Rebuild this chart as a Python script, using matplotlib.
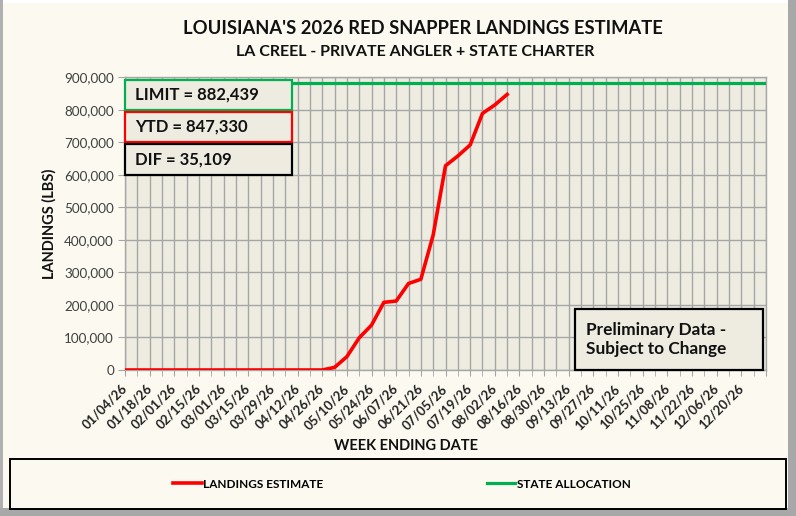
import datetime as dt
import numpy as np
import matplotlib
matplotlib.use("Agg")
import matplotlib.pyplot as plt
from matplotlib.patches import Rectangle
from matplotlib.lines import Line2D
from matplotlib.ticker import FuncFormatter, MultipleLocator

# week ending dates (52 Sundays of 2026)
weeks = [(dt.date(2026, 1, 4) + dt.timedelta(weeks=i)).strftime("%m/%d/%y")
         for i in range(52)]

# cumulative landings estimate (lbs), weekly
landings = [0] * 17 + [8000, 41000, 99000, 138000, 208000, 212000, 266000,
                       279000, 415000, 628000, 658000, 692000, 789000,
                       815000, 847330]
limit = 882439
ytd = 847330
dif = limit - ytd

W, H = 796, 516
BG = "#FCFAF0"
PLOT_BG = "#EEECE1"
GRID = "#A6A6A6"
FONT = "Lato"

plt.rcParams["font.family"] = [FONT, "DejaVu Sans"]

fig = plt.figure(figsize=(W / 100, H / 100), dpi=100, facecolor=BG)

def px(x0, y0, x1, y1):
    # pixel box -> figure fraction rect
    return [x0 / W, 1 - y1 / H, (x1 - x0) / W, (y1 - y0) / H]

# outer frame / shadow
fig.patches.append(Rectangle((0, 0), 3 / W, 1, transform=fig.transFigure,
                             facecolor="#B0B0B0", edgecolor="none"))
fig.patches.append(Rectangle((788 / W, 0), 8 / W, 1, transform=fig.transFigure,
                             facecolor="#A8A8A8", edgecolor="none"))
fig.patches.append(Rectangle((0, 0), 1, 8 / H, transform=fig.transFigure,
                             facecolor="#A8A8A8", edgecolor="none"))
fig.patches.append(Rectangle((3 / W, 1 - 3 / H), 785 / W, 3 / H,
                             transform=fig.transFigure,
                             facecolor="white", edgecolor="none"))

ax = fig.add_axes(px(125, 77.3, 766, 370))
ax.set_facecolor(PLOT_BG)

x = np.arange(len(landings))
ax.plot(x, landings, color="#FF0000", lw=2.6, zorder=4,
        solid_joinstyle="round")
ax.axhline(limit, color="#00B050", lw=2.3, zorder=3)

ax.set_xlim(0, len(weeks))
ax.set_ylim(0, 900000)

ax.xaxis.set_major_locator(MultipleLocator(2))
ax.xaxis.set_minor_locator(MultipleLocator(1))
ax.yaxis.set_major_locator(MultipleLocator(100000))
ax.xaxis.set_major_formatter(
    FuncFormatter(lambda v, p: weeks[int(v)] if 0 <= int(v) < len(weeks) and int(v) % 2 == 0 else ""))
ax.yaxis.set_major_formatter(FuncFormatter(lambda v, p: f"{int(v):,}"))

ax.grid(which="both", axis="x", color=GRID, lw=1.0, zorder=1)
ax.grid(which="major", axis="y", color=GRID, lw=1.0, zorder=1)
ax.set_axisbelow(True)
for s in ax.spines.values():
    s.set_color(GRID)
    s.set_linewidth(1.0)

ax.tick_params(axis="x", which="both", length=4, color=GRID, pad=8)
ax.tick_params(axis="y", length=5, color=GRID, pad=3, labelsize=9.7,
               labelcolor="#404040")
for lab in ax.get_xticklabels():
    lab.set_rotation(45)
    lab.set_ha("right")
    lab.set_va("center")
    lab.set_rotation_mode("anchor")
    lab.set_fontweight("bold")
    lab.set_fontsize(9.4)
    lab.set_color("#222222")

ax.set_ylabel("LANDINGS (LBS)", fontsize=10.5, fontweight="bold", color="#111111")
ax.yaxis.set_label_coords((57 - 125) / 641, 0.5)
ax.set_xlabel("WEEK ENDING DATE", fontsize=10.5, fontweight="bold", color="#111111")
ax.xaxis.set_label_coords(0.438, -0.237)

# summary boxes
boxes = [("LIMIT = {:,}".format(limit), "#00B050", 80, 110),
         ("YTD = {:,}".format(ytd), "#FF0000", 112, 142),
         ("DIF = {:,}".format(dif), "#000000", 144, 175)]
for txt, ec, y0, y1 in boxes:
    b0 = (370 - y1) / 292.7
    b1 = (370 - y0) / 292.7
    ax.add_patch(Rectangle((0.0, b0), (292 - 125) / 641, b1 - b0,
                           transform=ax.transAxes, facecolor=PLOT_BG,
                           edgecolor=ec, lw=1.6, zorder=6, clip_on=False))
    ax.text(10 / 641, (b0 + b1) / 2, txt, transform=ax.transAxes,
            ha="left", va="center", fontsize=12, fontweight="bold",
            color="#111111", zorder=7)

# preliminary note
ax.add_patch(Rectangle(((575 - 125) / 641, 0.0), (763 - 575) / 641,
                       (370 - 309) / 292.7, transform=ax.transAxes,
                       facecolor=PLOT_BG, edgecolor="black", lw=1.6,
                       zorder=6, clip_on=False))
ax.text((586 - 125) / 641, (370 - 339.5) / 292.7,
        "Preliminary Data -\nSubject to Change", transform=ax.transAxes,
        ha="left", va="center", fontsize=12.4, fontweight="bold",
        color="#111111", linespacing=1.3, zorder=7)

# titles
fig.text(423 / W, 1 - 29 / H, "LOUISIANA'S 2026 RED SNAPPER LANDINGS ESTIMATE",
         ha="center", va="center", fontsize=13.2, fontweight="bold",
         color="#111111")
fig.text(415 / W, 1 - 52 / H, "LA CREEL - PRIVATE ANGLER + STATE CHARTER",
         ha="center", va="center", fontsize=11.5, fontweight="bold",
         color="#111111")

# legend
fig.patches.append(Rectangle((10 / W, 1 - 509 / H), 776 / W, 50 / H,
                             transform=fig.transFigure, facecolor=BG,
                             edgecolor="black", lw=1.4))
handles = [Line2D([], [], color="#FF0000", lw=2.6),
           Line2D([], [], color="#00B050", lw=2.3)]
fig.legend(handles, ["LANDINGS ESTIMATE", "STATE ALLOCATION"],
           loc="center", bbox_to_anchor=(402 / W, 1 - 484 / H), ncol=2,
           frameon=False, handlelength=2.4,
           handletextpad=0.15, columnspacing=13.8,
           prop={"weight": "bold", "size": 8.5})

fig.savefig("out.png", dpi=100, facecolor=BG)
